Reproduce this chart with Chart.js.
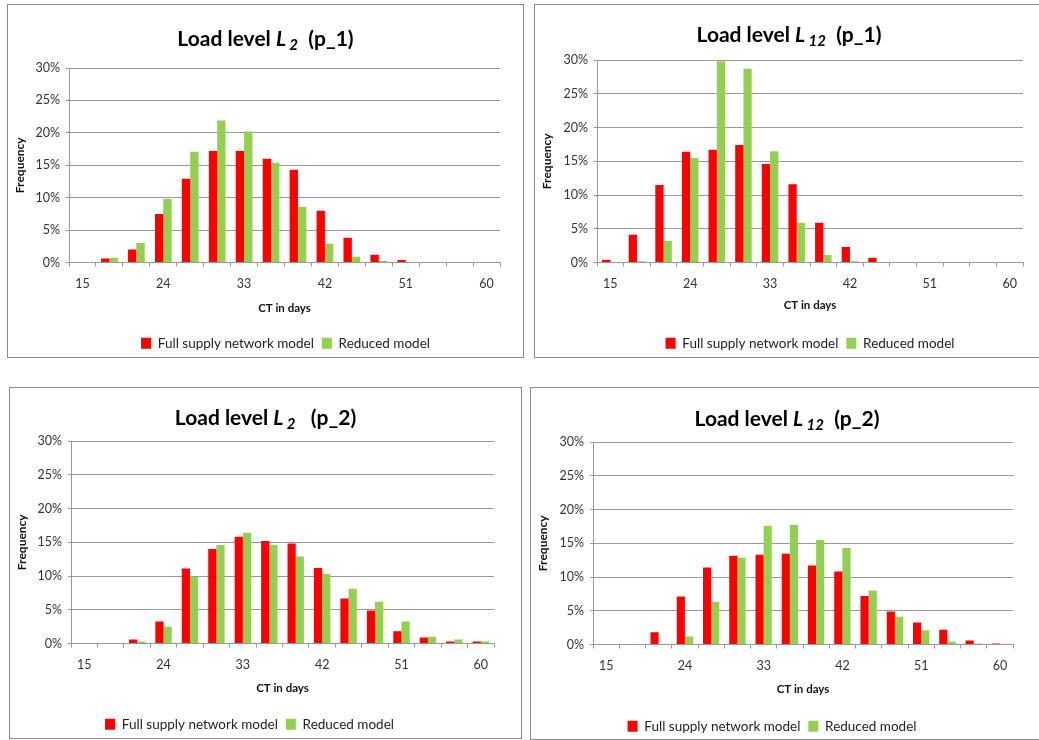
<!DOCTYPE html>
<html>
<head>
<meta charset="utf-8">
<script src="https://cdn.jsdelivr.net/npm/chart.js"></script>
<style>
  html, body { margin: 0; padding: 0; background: #fff; overflow: hidden; }
  body { width: 1039px; height: 740px; position: relative; font-family: Lato, sans-serif; }
  .frame { position: absolute; border: 1px solid #8a8a8a; box-sizing: border-box; }
  .holder { position: absolute; }
  .title {
    position: absolute; left: 0; right: 0; text-align: center;
    font: bold 21px/1.2 Lato, sans-serif; color: #000; white-space: pre;
  }
  .title sub { font-size: 15px; vertical-align: -4px; font-style: italic; }
</style>
</head>
<body>

<div class="frame" style="left:7px;top:4px;width:517px;height:354px"></div>
<div class="frame" style="left:534px;top:4px;width:510px;height:354px"></div>
<div class="frame" style="left:9px;top:387px;width:513px;height:352px"></div>
<div class="frame" style="left:530px;top:387px;width:514px;height:353px"></div>

<div class="holder" style="left:8px;top:5px;width:515px;height:362px">
  <div class="title" style="top:20px;width:515px">Load level <i>L</i><sub> 2</sub>  (p_1)</div>
  <canvas id="c1"></canvas>
</div>
<div class="holder" style="left:535px;top:5px;width:508px;height:362px">
  <div class="title" style="top:16px;width:508px">Load level <i>L</i><sub> 12</sub>  (p_1)</div>
  <canvas id="c2"></canvas>
</div>
<div class="holder" style="left:10px;top:388px;width:511px;height:362px">
  <div class="title" style="top:16px;width:511px">Load level <i>L</i><sub> 2</sub>   (p_2)</div>
  <canvas id="c3"></canvas>
</div>
<div class="holder" style="left:531px;top:388px;width:512px;height:362px">
  <div class="title" style="top:17px;width:512px">Load level <i>L</i><sub> 12</sub>  (p_2)</div>
  <canvas id="c4"></canvas>
</div>

<script>
// CT bins (days) and frequencies in %
const ctDays = [15, 18, 21, 24, 27, 30, 33, 36, 39, 42, 45, 48, 51, 54, 57, 60];
const yTicks = [0, 5, 10, 15, 20, 25, 30];

const fullL2p1    = [0, 0.6, 2.0, 7.5, 12.9, 17.2, 17.2, 16.0, 14.3, 8.0, 3.8, 1.2, 0.4, 0, 0, 0];
const reducedL2p1 = [0, 0.75, 3.0, 9.8, 17.1, 21.9, 20.2, 15.4, 8.6, 2.9, 0.9, 0.25, 0, 0, 0, 0];

const fullL12p1    = [0.4, 4.1, 11.5, 16.4, 16.7, 17.4, 14.6, 11.6, 5.9, 2.3, 0.7, 0, 0, 0, 0, 0];
const reducedL12p1 = [0, 0.2, 3.2, 15.5, 29.8, 28.7, 16.5, 5.9, 1.1, 0.2, 0, 0, 0, 0, 0, 0];

const fullL2p2    = [0, 0, 0.6, 3.25, 11.1, 14.0, 15.8, 15.2, 14.8, 11.2, 6.65, 4.9, 1.8, 0.9, 0.3, 0.3];
const reducedL2p2 = [0, 0, 0.3, 2.5, 9.9, 14.6, 16.4, 14.6, 12.9, 10.3, 8.1, 6.2, 3.25, 1.0, 0.6, 0.3];

const fullL12p2    = [0, 0, 1.8, 7.1, 11.4, 13.15, 13.3, 13.45, 11.7, 10.8, 7.2, 4.9, 3.25, 2.2, 0.6, 0.15];
const reducedL12p2 = [0, 0, 0, 1.2, 6.35, 12.85, 17.6, 17.7, 15.5, 14.3, 8.0, 4.1, 2.1, 0.45, 0.15, 0];

Chart.defaults.font.family = "Lato, sans-serif";
Chart.defaults.color = "#333";

// move the legend sideways (Excel placed them by hand)
const legendShift = {
  id: "legendShift",
  afterLayout(chart, args, opts) {
    const lg = chart.legend;
    if (lg && opts.dx) { lg.left += opts.dx; lg.right += opts.dx; }
  }
};

function histChart(id, full, reduced, lay) {
  new Chart(document.getElementById(id), {
    type: "bar",
    plugins: [legendShift],
    data: {
      labels: ctDays,
      datasets: [
        { label: "Full supply network model", data: full, backgroundColor: "#ff0000", borderWidth: 0 },
        { label: "Reduced model", data: reduced, backgroundColor: "#92d050", borderWidth: 0 }
      ]
    },
    options: {
      responsive: true,
      maintainAspectRatio: false,
      animation: false,
      categoryPercentage: 0.62,
      barPercentage: 1.0,
      layout: { padding: { left: 4, top: lay.top, right: lay.right, bottom: lay.bottom } },
      plugins: {
        tooltip: { enabled: false },
        legendShift: { dx: lay.dx },
        legend: {
          position: "bottom",
          fullSize: false,
          labels: { boxWidth: 10, boxHeight: 11, padding: 8, color: "#222", font: { size: 13.5 } }
        }
      },
      scales: {
        x: {
          afterFit: s => { s.height = lay.xH; },
          grid: { drawOnChartArea: false, drawTicks: true, tickLength: 4, color: "#999", offset: true },
          border: { color: "#999" },
          ticks: {
            autoSkip: false, maxRotation: 0, padding: 10, color: "#333", font: { size: 12.5 },
            callback: (v, i) => (i % 3 === 0 ? ctDays[i] : "")
          },
          title: {
            display: true, text: "CT in days", color: "#111",
            font: { size: 11.5, weight: "bold" }, padding: { top: 0, bottom: lay.xtPad }
          }
        },
        y: {
          min: 0, max: 30,
          afterFit: s => { s.width = lay.yW; },
          afterBuildTicks: s => { s.ticks = yTicks.map(v => ({ value: v })); },
          grid: { color: "#999", tickLength: 3 },
          border: { color: "#999" },
          ticks: { padding: 6, color: "#333", font: { size: 12.5 }, callback: v => v + "%" },
          title: {
            display: true, text: "Frequency", color: "#111",
            font: { size: 12, weight: "bold" }, padding: { top: 1, bottom: 0 }
          }
        }
      }
    }
  });
}

histChart("c1", fullL2p1, reducedL2p1,   { top: 63, right: 23, bottom: 7, yW: 57, xH: 66, xtPad: 13, dx: 1 });
histChart("c2", fullL12p1, reducedL12p1, { top: 55, right: 20, bottom: 7, yW: 58, xH: 66, xtPad: 16, dx: 0 });
histChart("c3", fullL2p2, reducedL2p2,   { top: 53, right: 27, bottom: 9, yW: 57, xH: 66, xtPad: 14, dx: -33 });
histChart("c4", fullL12p2, reducedL12p2, { top: 54, right: 30, bottom: 7, yW: 58, xH: 67, xtPad: 15, dx: -31 });
</script>
</body>
</html>
